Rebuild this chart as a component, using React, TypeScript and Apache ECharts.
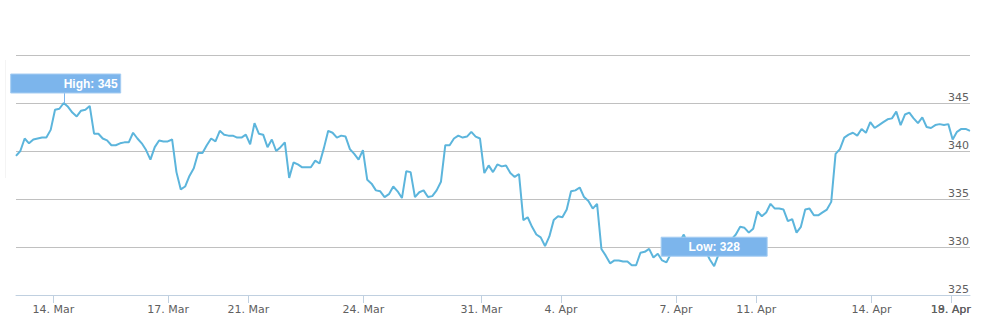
import { useEffect, useRef } from "react";
import * as echarts from "echarts";

// Price series (one point per sample, ordinal spacing)
const prices: number[] = [
  339.5, 340.0, 341.3, 340.8, 341.2, 341.3, 341.4, 341.4, 342.2, 344.3,
  344.4, 345.0, 344.6, 344.0, 343.6, 344.2, 344.3, 344.7, 341.8, 341.8,
  341.3, 341.1, 340.6, 340.6, 340.8, 340.9, 340.9, 341.9, 341.3, 340.8,
  340.1, 339.1, 340.4, 341.1, 341.0, 341.0, 341.2, 337.8, 336.0, 336.3,
  337.4, 338.2, 339.8, 339.8, 340.6, 341.3, 341.0, 342.1, 341.7, 341.6,
  341.6, 341.4, 341.4, 341.7, 340.7, 342.9, 341.8, 341.7, 340.4, 341.2,
  340.0, 340.4, 340.9, 337.2, 338.8, 338.6, 338.3, 338.3, 338.3, 339.0,
  338.7, 340.3, 342.1, 341.9, 341.4, 341.6, 341.5, 340.2, 339.7, 339.1,
  340.1, 337.0, 336.6, 335.9, 335.8, 335.2, 335.5, 336.3, 335.8, 335.1,
  337.9, 337.8, 335.2, 335.7, 335.9, 335.2, 335.3, 335.9, 336.8, 340.6,
  340.6, 341.3, 341.6, 341.4, 341.5, 342.0, 341.5, 341.3, 337.7, 338.5,
  337.8, 338.6, 338.4, 338.5, 337.7, 337.3, 337.6, 332.8, 333.1, 332.1,
  331.3, 331.0, 330.1, 331.1, 332.8, 333.2, 333.1, 333.9, 335.8, 335.9,
  336.2, 335.2, 334.8, 334.0, 334.5, 329.8, 329.1, 328.3, 328.6, 328.6,
  328.5, 328.5, 328.1, 328.1, 329.4, 329.5, 329.8, 328.9, 329.3, 328.6,
  328.4, 329.3, 329.8, 330.5, 331.3, 330.2, 329.6, 329.8, 329.5, 329.6,
  328.7, 328.0, 329.2, 330.0, 330.3, 330.8, 331.3, 332.1, 332.0, 331.5,
  331.9, 333.7, 333.2, 333.6, 334.5, 334.0, 334.0, 333.9, 332.7, 332.9,
  331.5, 332.1, 333.9, 334.0, 333.3, 333.3, 333.6, 333.9, 334.7, 339.7,
  340.2, 341.4, 341.7, 341.9, 341.6, 342.3, 341.9, 343.0, 342.4, 342.7,
  343.0, 343.3, 343.4, 344.1, 342.7, 343.8, 344.0, 343.4, 342.9, 343.5,
  342.5, 342.4, 342.7, 342.8, 342.7, 342.8, 341.2, 342.0, 342.3, 342.3,
  342.1,
];

// Date labels and where each day starts in the ordinal point sequence
const tickLabels: string[] = [
  "14. Mar", "17. Mar", "21. Mar", "24. Mar", "31. Mar",
  "4. Apr", "7. Apr", "11. Apr", "14. Apr", "19. Apr",
];
const tickIndex: number[] = [
  8.6, 35.1, 53.6, 80.1, 107.3, 125.7, 152.2, 170.7, 197.3, 215.6,
];
// A second label that lands on the same spot (drawn on an overlay axis)
const overlapLabels: string[] = ["18. Apr"];
const overlapIndex: number[] = [215.55];

const yMin = 325;
const yMax = 350;
const yStep = 5;

const LINE_COLOR = "#5cb5dc";
const FLAG_COLOR = "#7cb5ec";

const nearestLabel = (v: number, idx: number[], labels: string[]) => {
  let best = 0;
  let bd = Infinity;
  idx.forEach((t, i) => {
    const d = Math.abs(t - v);
    if (d < bd) {
      bd = d;
      best = i;
    }
  });
  return labels[best];
};

export default function App() {
  const ref = useRef<HTMLDivElement>(null);

  useEffect(() => {
    if (!ref.current) return;
    const chart = echarts.init(ref.current, undefined, { renderer: "svg" });

    const labelStyle = {
      margin: 9,
      color: "#606060",
      fontSize: 11,
      fontFamily: "DejaVu Sans",
      showMinLabel: true,
      showMaxLabel: true,
      hideOverlap: false,
    };

    chart.setOption({
      animation: false,
      backgroundColor: "#ffffff",
      grid: {
        left: 16,
        right: 22,
        top: 55,
        bottom: 29,
        containLabel: false,
        outerBoundsMode: "none",
      },
      xAxis: [
        {
          type: "value",
          min: 0,
          max: prices.length - 1,
          splitLine: { show: false },
          axisLine: { show: true, lineStyle: { color: "#C0D0E0", width: 1 } },
          axisTick: {
            show: true,
            customValues: tickIndex,
            length: 8,
            lineStyle: { color: "#C0D0E0", width: 1 },
          },
          axisLabel: {
            ...labelStyle,
            customValues: tickIndex,
            formatter: (v: number) => nearestLabel(v, tickIndex, tickLabels),
          },
        },
        {
          type: "value",
          position: "bottom",
          min: 0,
          max: prices.length - 1,
          splitLine: { show: false },
          axisLine: { show: false },
          axisTick: { show: false },
          axisLabel: {
            ...labelStyle,
            customValues: overlapIndex,
            formatter: (v: number) => nearestLabel(v, overlapIndex, overlapLabels),
          },
        },
      ],
      yAxis: {
        type: "value",
        position: "right",
        min: yMin,
        max: yMax,
        interval: yStep,
        axisLine: { show: false },
        axisTick: { show: false },
        splitLine: { show: true, lineStyle: { color: "#C0C0C0", width: 1 } },
        axisLabel: {
          inside: true,
          margin: 1,
          verticalAlign: "bottom",
          showMaxLabel: false,
          showMinLabel: true,
          color: "#606060",
          fontSize: 11,
          fontFamily: "DejaVu Sans",
        },
      },
      series: [
        {
          type: "line",
          xAxisIndex: 0,
          data: prices.map((v, i) => [i, v]),
          showSymbol: false,
          symbol: "none",
          lineStyle: { color: LINE_COLOR, width: 2 },
          itemStyle: { color: LINE_COLOR },
          silent: true,
        },
      ],
    });

    let hi = 0;
    let lo = 0;
    prices.forEach((v, i) => {
      if (v > prices[hi]) hi = i;
      if (v < prices[lo]) lo = i;
    });
    const ph = chart.convertToPixel({ seriesIndex: 0 }, [hi, prices[hi]]) as number[];
    const pl = chart.convertToPixel({ seriesIndex: 0 }, [lo, prices[lo]]) as number[];

    const font = "bold 12px 'Liberation Sans', Arial, sans-serif";
    chart.setOption({
      graphic: [
        {
          type: "line",
          z: 100,
          shape: { x1: 5.5, y1: 60, x2: 5.5, y2: 178 },
          style: { stroke: "#f4f4f4", lineWidth: 1 },
          silent: true,
        },
        {
          type: "line",
          z: 100,
          shape: { x1: Math.round(ph[0]) + 0.5, y1: ph[1] - 10, x2: Math.round(ph[0]) + 0.5, y2: ph[1] },
          style: { stroke: FLAG_COLOR, lineWidth: 1 },
          silent: true,
        },
        {
          type: "rect",
          z: 100,
          shape: { x: ph[0] - 53, y: ph[1] - 29, width: 110, height: 19 },
          style: { fill: FLAG_COLOR, stroke: "#a6cdf2", lineWidth: 1 },
          silent: true,
        },
        {
          type: "text",
          z: 101,
          x: ph[0],
          y: ph[1] - 19.5,
          style: {
            text: "High: " + Math.round(prices[hi]),
            fill: "#ffffff",
            font,
            textAlign: "left",
            textVerticalAlign: "middle",
          },
          silent: true,
        },
        {
          type: "rect",
          z: 100,
          shape: { x: pl[0] - 53, y: pl[1] - 29, width: 106, height: 19 },
          style: { fill: FLAG_COLOR, stroke: "#a6cdf2", lineWidth: 1 },
          silent: true,
        },
        {
          type: "text",
          z: 101,
          x: pl[0],
          y: pl[1] - 19.5,
          style: {
            text: "Low: " + Math.round(prices[lo]),
            fill: "#ffffff",
            font,
            textAlign: "center",
            textVerticalAlign: "middle",
          },
          silent: true,
        },
      ],
    });

    return () => chart.dispose();
  }, []);

  return (
    <div
      ref={ref}
      style={{ position: "absolute", left: 0, top: 0, width: 992, height: 324 }}
    />
  );
}
